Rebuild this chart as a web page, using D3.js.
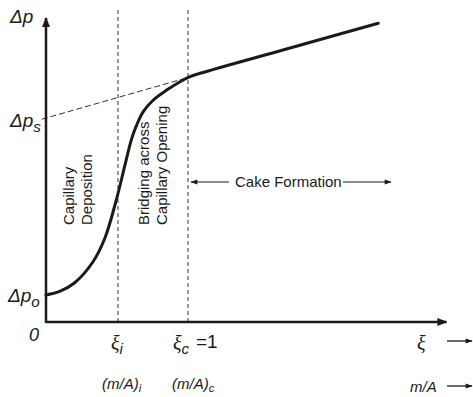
<!DOCTYPE html>
<html>
<head>
<meta charset="utf-8">
<script src="https://cdn.jsdelivr.net/npm/d3@7"></script>
<style>
  html, body { margin: 0; padding: 0; background: #fff; }
  svg { display: block; }
  .sans { font-family: "Liberation Sans", Arial, sans-serif; fill: #1a1a1a; }
  .greek { font-family: "Liberation Serif", "Times New Roman", serif; font-style: italic; fill: #1a1a1a; }
</style>
</head>
<body>
<svg id="chart" width="473" height="397"></svg>
<script>
// Dimensionless cake mass ξ and pressure drop Δp along the filtration curve
const curveXi = [0, 0.10, 0.20, 0.33, 0.415, 0.498, 0.556, 0.604, 0.639, 0.685, 0.756, 0.85, 0.944, 1.014, 1.085, 1.7, 2.34];
const curveDp = [9, 10.3, 13, 20, 28, 41.2, 52.3, 61.2, 65.7, 70.1, 74, 77.3, 80.1, 81.8, 82.9, 91.1, 99.6];

// Characteristic levels
const dpO = 9;        // Δp_o, clean medium
const dpS = 68;       // Δp_s, extrapolated cake line intercept
const cakeSlope = 13.5;
const xiI = 0.507;    // ξ_i, end of capillary deposition
const xiC = 1;        // ξ_c, onset of cake formation

// Axis extents
const xiMax = 2.82;
const dpMax = 101.3;

const svg = d3.select("#chart");
const x = d3.scaleLinear().domain([0, 1]).range([46, 188]);
const y = d3.scaleLinear().domain([0, 100]).range([322, 22]);

const defs = svg.append("defs");
defs.append("marker").attr("id", "axArrow")
  .attr("viewBox", "0 0 10 10").attr("refX", 9).attr("refY", 5)
  .attr("markerWidth", 4).attr("markerHeight", 4).attr("orient", "auto")
  .attr("markerUnits", "strokeWidth")
  .append("path").attr("d", "M0,1 L10,5 L0,9 Z").attr("fill", "#1a1a1a");
defs.append("marker").attr("id", "smArrow")
  .attr("viewBox", "0 0 10 10").attr("refX", 9).attr("refY", 5)
  .attr("markerWidth", 8).attr("markerHeight", 7).attr("orient", "auto-start-reverse")
  .attr("markerUnits", "userSpaceOnUse")
  .append("path").attr("d", "M0,1.5 L10,5 L0,8.5 Z").attr("fill", "#1a1a1a");

// Vertical dashed boundaries at ξ_i and ξ_c
[xiI, xiC].forEach(v => {
  svg.append("line")
    .attr("x1", x(v)).attr("x2", x(v))
    .attr("y1", 10).attr("y2", y(0))
    .attr("stroke", "#333").attr("stroke-width", 1)
    .attr("stroke-dasharray", "4,3");
});

// Extrapolated cake line back to Δp_s
svg.append("line")
  .attr("x1", x(-0.03)).attr("y1", y(dpS - cakeSlope * 0.03))
  .attr("x2", x(xiC)).attr("y2", y(dpS + cakeSlope * xiC))
  .attr("stroke", "#333").attr("stroke-width", 1)
  .attr("stroke-dasharray", "6,3");

// Axes
svg.append("line")
  .attr("x1", x(0)).attr("y1", y(0)).attr("x2", x(xiMax)).attr("y2", y(0))
  .attr("stroke", "#1a1a1a").attr("stroke-width", 2.5)
  .attr("marker-end", "url(#axArrow)");
svg.append("line")
  .attr("x1", x(0)).attr("y1", y(0) + 1).attr("x2", x(0)).attr("y2", y(dpMax))
  .attr("stroke", "#1a1a1a").attr("stroke-width", 2.5)
  .attr("marker-end", "url(#axArrow)");

// Pressure drop curve
const pts = curveXi.map((v, i) => [v, curveDp[i]]);
svg.append("path")
  .attr("d", d3.line().x(d => x(d[0])).y(d => y(d[1])).curve(d3.curveCatmullRom.alpha(0.5))(pts))
  .attr("fill", "none").attr("stroke", "#1a1a1a").attr("stroke-width", 3)
  .attr("stroke-linecap", "round");

// Y-axis labels
function dpLabel(tx, ty, sub, size) {
  const t = svg.append("text").attr("class", "sans").attr("x", tx).attr("y", ty)
    .attr("font-size", size).attr("font-style", "italic");
  t.append("tspan").text("Δp");
  if (sub) t.append("tspan").attr("dy", 5).attr("font-size", size * 0.8).text(sub);
}
dpLabel(10, 23, null, 19);
dpLabel(10, 127, "s", 19);
dpLabel(8, 302, "o", 19);

svg.append("text").attr("class", "sans").attr("x", 29).attr("y", 341)
  .attr("font-size", 18).attr("font-style", "italic").text("0");

// ξ tick labels
function xiLabel(tx, sub) {
  const t = svg.append("text").attr("class", "greek").attr("x", tx).attr("y", 350).attr("font-size", 20);
  t.append("tspan").text("ξ");
  t.append("tspan").attr("dy", 4).attr("font-size", 15)
    .style("font-family", "Liberation Sans, Arial, sans-serif").text(sub);
}
xiLabel(x(xiI) - 7, "i");
xiLabel(x(xiC) - 15, "c");
svg.append("text").attr("class", "sans").attr("x", x(xiC) + 8).attr("y", 348)
  .attr("font-size", 19).text("=1");

// m/A labels
function maLabel(tx, sub) {
  const t = svg.append("text").attr("class", "sans").attr("x", tx).attr("y", 389)
    .attr("font-size", 15).attr("font-style", "italic");
  t.append("tspan").text("(m/A)");
  t.append("tspan").attr("dy", 3).attr("font-size", 11).text(sub);
}
maLabel(102, "i");
maLabel(172, "c");

// Right-hand axis names with arrows
svg.append("text").attr("class", "greek").attr("x", 417).attr("y", 350)
  .attr("font-size", 20).text("ξ");
svg.append("line").attr("x1", 447).attr("x2", 472).attr("y1", 341).attr("y2", 341)
  .attr("stroke", "#1a1a1a").attr("stroke-width", 1.3).attr("marker-end", "url(#smArrow)");
svg.append("text").attr("class", "sans").attr("x", 410).attr("y", 392)
  .attr("font-size", 15).attr("font-style", "italic").text("m/A");
svg.append("line").attr("x1", 447).attr("x2", 472).attr("y1", 386).attr("y2", 386)
  .attr("stroke", "#1a1a1a").attr("stroke-width", 1.3).attr("marker-end", "url(#smArrow)");

// Region annotations (rotated)
function vText(cx, lines, gap) {
  const g = svg.append("g").attr("transform", `translate(${cx},225) rotate(-90)`);
  lines.forEach((s, i) => {
    g.append("text").attr("class", "sans").attr("x", 0).attr("y", i * gap)
      .attr("font-size", 15).text(s);
  });
}
vText(74, ["Capillary", "Deposition"], 18);
vText(149, ["Bridging across", "Capillary Opening"], 18);

// Cake formation region
svg.append("line").attr("x1", 229).attr("x2", 191).attr("y1", 182).attr("y2", 182)
  .attr("stroke", "#1a1a1a").attr("stroke-width", 1.2).attr("marker-end", "url(#smArrow)");
svg.append("text").attr("class", "sans").attr("x", 235).attr("y", 187)
  .attr("font-size", 15).text("Cake Formation");
svg.append("line").attr("x1", 343).attr("x2", 391).attr("y1", 182).attr("y2", 182)
  .attr("stroke", "#1a1a1a").attr("stroke-width", 1.2).attr("marker-end", "url(#smArrow)");
</script>
</body>
</html>
